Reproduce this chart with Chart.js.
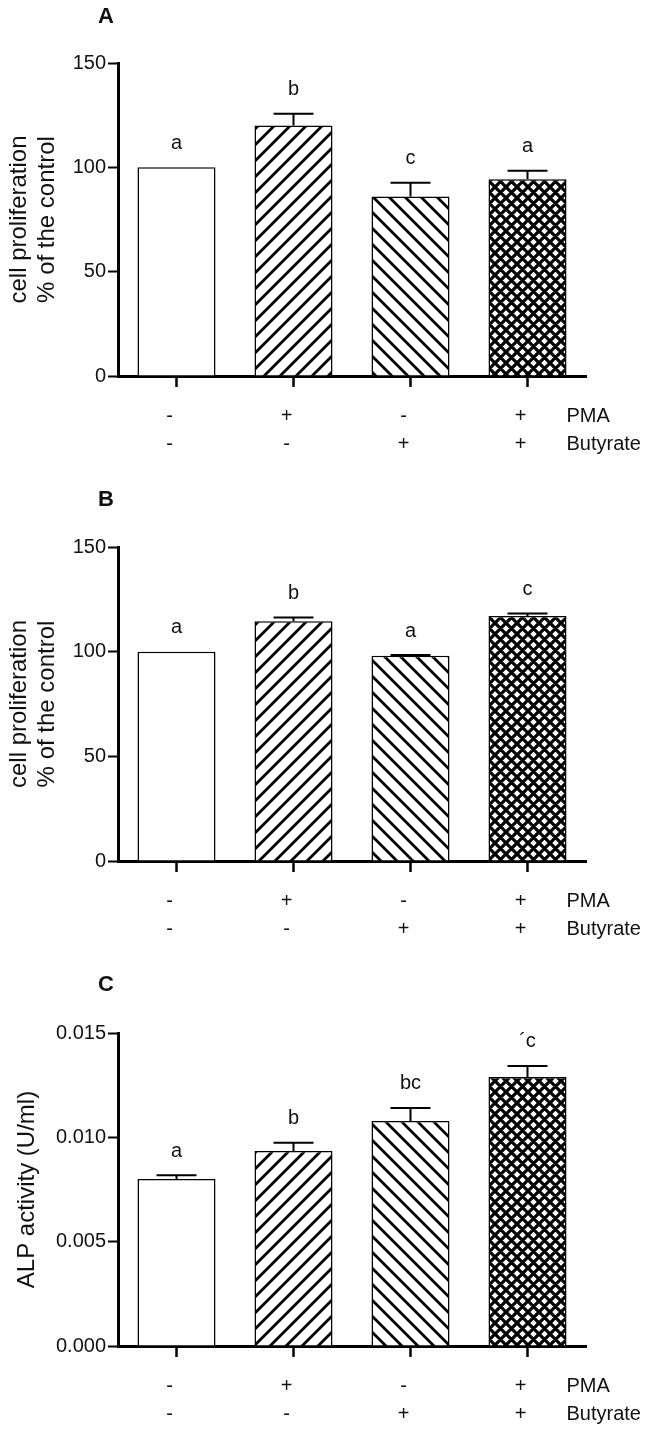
<!DOCTYPE html>
<html>
<head>
<meta charset="utf-8">
<script src="https://cdn.jsdelivr.net/npm/chart.js@4"></script>
<style>
  body { margin: 0; background: #fff; overflow: hidden; }
  canvas { position: absolute; left: 0; }
</style>
</head>
<body>
<canvas id="chartA" width="664" height="480" style="top:0px"></canvas>
<canvas id="chartB" width="664" height="480" style="top:480px"></canvas>
<canvas id="chartC" width="664" height="472" style="top:960px"></canvas>
<script>
// treatment combinations, one column per bar: [PMA, Butyrate]
const treatments = [["-", "-"], ["+", "-"], ["-", "+"], ["+", "+"]];
const rowNames = ["PMA", "Butyrate"];

// A: cell proliferation (% of control)
const prolifA = [100, 120, 86, 94.3];
const prolifAErr = [0, 5.7, 6.6, 4.1];
const lettersA = ["a", "b", "c", "a"];

// B: cell proliferation (% of control)
const prolifB = [100, 114.5, 98, 117];
const prolifBErr = [0, 1.8, 0.4, 1.2];
const lettersB = ["a", "b", "a", "c"];

// C: ALP activity (U/ml)
const alpC = [0.0080, 0.00935, 0.01078, 0.01289];
const alpCErr = [0.00018, 0.00039, 0.00063, 0.00053];
const lettersC = ["a", "b", "bc", "´c"];

const prolifTicks = [0, 50, 100, 150];
const alpTicks = [0, 0.005, 0.010, 0.015];

const FONT = "'Liberation Sans', Arial, sans-serif";
const INK = "#111";

function hatch(dirs, p, lw) {
  const c = document.createElement("canvas");
  c.width = p; c.height = p;
  const g = c.getContext("2d");
  g.fillStyle = "#fff";
  g.fillRect(0, 0, p, p);
  g.strokeStyle = "#000";
  g.lineWidth = lw;
  g.beginPath();
  for (const d of dirs) {
    for (const k of [-1, 0, 1]) {
      if (d === "/") {
        const s = (k + 1) * p;
        g.moveTo(s + p, -p); g.lineTo(s - 2 * p, 2 * p);
      } else {
        const s = k * p;
        g.moveTo(s - p, -p); g.lineTo(s + 2 * p, 2 * p);
      }
    }
  }
  g.stroke();
  return g.createPattern(c, "repeat");
}

const fills = [
  "#fff",
  hatch(["/"], 16, 2.8),
  hatch(["\\"], 16, 2.8),
  hatch(["/", "\\"], 11, 3.2),
];

const decor = {
  id: "decor",
  afterDatasetsDraw(chart, args, o) {
    const { ctx, scales: { x, y } } = chart;
    const vals = chart.data.datasets[0].data;
    ctx.save();
    ctx.strokeStyle = "#000";
    ctx.lineWidth = 2;
    ctx.fillStyle = INK;
    ctx.font = "20px " + FONT;
    ctx.textAlign = "center";
    ctx.textBaseline = "middle";
    vals.forEach((v, i) => {
      const cx = x.getPixelForValue(i);
      const e = o.err[i];
      const top = y.getPixelForValue(v + e);
      if (e > 0) {
        ctx.beginPath();
        ctx.moveTo(cx, y.getPixelForValue(v));
        ctx.lineTo(cx, top);
        ctx.moveTo(cx - 20, top);
        ctx.lineTo(cx + 20, top);
        ctx.stroke();
      }
      ctx.fillText(o.letters[i], cx, top - 24);
    });
    // row captions to the right of the treatment table
    ctx.textAlign = "left";
    const x0 = x.getPixelForValue(vals.length - 1) + 39;
    rowNames.forEach((r, j) => {
      ctx.fillText(r, x0, x.top + 11 + 15 + 28 * (j + 0.5));
    });
    // panel letter
    ctx.font = "bold 22px " + FONT;
    ctx.textAlign = "center";
    ctx.fillText(o.panel, 106, o.panelY);
    ctx.restore();
  }
};

function makeChart(id, vals, err, letters, ticks, title, opts) {
  const last = ticks[ticks.length - 1];
  return new Chart(document.getElementById(id), {
    type: "bar",
    data: {
      labels: treatments,
      datasets: [{
        data: vals,
        backgroundColor: fills,
        borderColor: "#000",
        borderWidth: 1.5,
        categoryPercentage: 1,
        barPercentage: 0.667,
      }],
    },
    options: {
      responsive: false,
      animation: false,
      layout: { padding: { top: opts.top, right: 78, bottom: 0, left: 0 } },
      plugins: {
        legend: { display: false },
        tooltip: { enabled: false },
        decor: { err: err, letters: letters, panel: opts.panel, panelY: opts.panelY },
      },
      scales: {
        x: {
          grid: { offset: false, drawOnChartArea: false, tickLength: 11, tickWidth: 2.5, tickColor: "#000" },
          border: { color: "#000", width: 3 },
          ticks: {
            color: INK,
            font: { family: FONT, size: 20, lineHeight: 1.4 },
            padding: 15,
            labelOffset: -7,
            maxRotation: 0,
            autoSkip: false,
          },
          afterFit: s => { s.height = opts.xh; },
        },
        y: {
          min: ticks[0],
          max: last,
          afterBuildTicks: s => { s.ticks = ticks.map(v => ({ value: v })); },
          grid: { drawOnChartArea: false, tickLength: 10, tickWidth: 2, tickColor: "#000" },
          border: { color: "#000", width: 3 },
          ticks: {
            color: INK,
            font: { family: FONT, size: 20 },
            padding: 2,
            callback: v => opts.fmt(v),
          },
          title: {
            display: true,
            text: title,
            color: INK,
            font: { family: FONT, size: 24, lineHeight: 1.15 },
            padding: { top: opts.tpad, bottom: 0 },
          },
          afterFit: s => { s.width = 118; },
        },
      },
    },
    plugins: [decor],
  });
}

makeChart("chartA", prolifA, prolifAErr, lettersA, prolifTicks,
  ["cell proliferation", "% of the control"],
  { top: 63, xh: 104, panel: "A", panelY: 17, tpad: 6, fmt: v => String(v) });
makeChart("chartB", prolifB, prolifBErr, lettersB, prolifTicks,
  ["cell proliferation", "% of the control"],
  { top: 67, xh: 99, panel: "B", panelY: 20, tpad: 6, fmt: v => String(v) });
makeChart("chartC", alpC, alpCErr, lettersC, alpTicks,
  "ALP activity (U/ml)",
  { top: 73, xh: 86, panel: "C", panelY: 25, tpad: 14, fmt: v => v.toFixed(3) });
</script>
</body>
</html>
